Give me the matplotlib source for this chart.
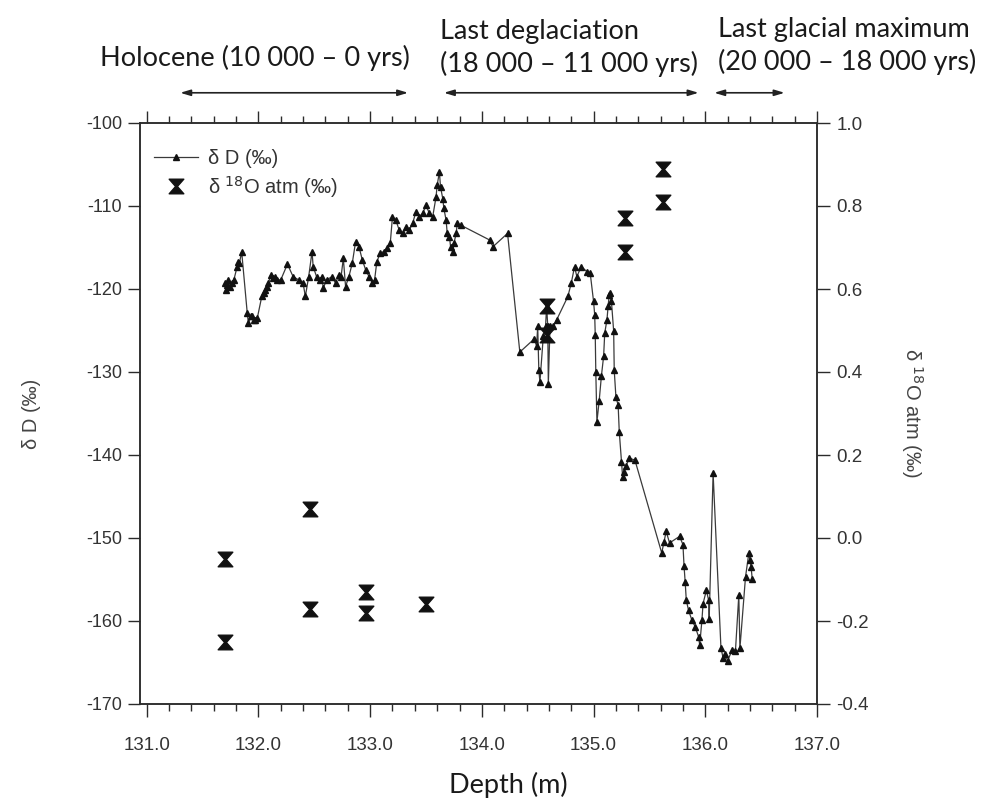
import matplotlib
matplotlib.use("Agg")
import matplotlib.pyplot as plt
from matplotlib.path import Path
from matplotlib.ticker import MultipleLocator, FormatStrFormatter
from matplotlib.transforms import blended_transform_factory

plt.rcParams["axes.unicode_minus"] = False

# Deuterium record along the core (depth in m, dD in permil)
depth_dD = [131.70, 131.71, 131.72, 131.73, 131.75, 131.76, 131.78, 131.81, 131.82, 131.83,
            131.85, 131.90, 131.91, 131.93, 131.94, 131.96, 131.97, 131.99, 132.03, 132.05,
            132.06, 132.08, 132.09, 132.11, 132.13, 132.15, 132.17, 132.20, 132.26, 132.31,
            132.36, 132.40, 132.42, 132.45, 132.48, 132.49, 132.52, 132.55, 132.57, 132.58,
            132.61, 132.66, 132.69, 132.72, 132.74, 132.76, 132.78, 132.81, 132.84, 132.87,
            132.90, 132.93, 132.96, 132.99, 133.02, 133.04, 133.06, 133.09, 133.12, 133.15,
            133.18, 133.20, 133.23, 133.26, 133.29, 133.32, 133.35, 133.38, 133.41, 133.44,
            133.47, 133.50, 133.53, 133.56, 133.59, 133.60, 133.62, 133.63, 133.65, 133.66,
            133.68, 133.69, 133.71, 133.72, 133.74, 133.75, 133.77, 133.78, 133.81, 134.07,
            134.10, 134.23, 134.34, 134.47, 134.49, 134.50, 134.51, 134.52, 134.55, 134.57,
            134.58, 134.59, 134.595, 134.61, 134.64, 134.67, 134.77, 134.80, 134.83, 134.85,
            134.89, 134.94, 134.97, 135.00, 135.01, 135.015, 135.02, 135.03, 135.05, 135.07,
            135.09, 135.10, 135.12, 135.13, 135.14, 135.15, 135.16, 135.18, 135.185, 135.20,
            135.22, 135.23, 135.25, 135.26, 135.27, 135.29, 135.32, 135.37, 135.61, 135.63,
            135.65, 135.68, 135.77, 135.80, 135.81, 135.82, 135.83, 135.85, 135.88, 135.91,
            135.94, 135.95, 135.97, 135.98, 136.01, 136.03, 136.035, 136.07, 136.14, 136.16,
            136.18, 136.20, 136.24, 136.27, 136.30, 136.31, 136.36, 136.39, 136.40, 136.41,
            136.42]
dD = [-119.3, -120.1, -119.5, -118.9, -119.8, -119.3, -118.9, -117.3, -116.7, -116.9,
      -115.5, -122.9, -124.1, -123.3, -123.3, -123.7, -123.7, -123.5, -120.9, -120.5,
      -120.1, -119.7, -119.3, -118.3, -118.7, -118.5, -118.9, -118.9, -117.0, -118.5,
      -118.9, -119.3, -120.9, -118.5, -115.5, -117.3, -118.5, -118.9, -118.5, -119.9,
      -118.9, -118.5, -119.3, -118.3, -118.5, -116.3, -119.7, -118.5, -116.9, -114.3,
      -114.9, -116.5, -117.7, -118.5, -119.3, -118.9, -116.7, -115.7, -115.5, -115.1,
      -114.5, -111.3, -111.7, -112.9, -113.3, -112.5, -112.9, -112.1, -110.7, -111.3,
      -110.9, -109.9, -110.9, -111.3, -108.9, -107.5, -105.9, -107.7, -109.1, -110.3,
      -111.7, -113.3, -113.7, -114.9, -115.6, -114.5, -113.3, -112.1, -112.3, -114.1,
      -114.9, -113.3, -127.6, -126.0, -126.9, -124.5, -129.8, -131.2, -125.7, -124.5,
      -122.1, -124.5, -131.5, -124.5, -124.5, -123.7, -120.9, -119.3, -117.3, -118.5,
      -117.3, -117.9, -118.1, -121.5, -123.1, -125.5, -130.0, -136.0, -133.5, -130.5,
      -128.1, -125.3, -123.7, -122.1, -120.7, -120.5, -121.5, -125.1, -129.8, -133.0,
      -134.0, -137.2, -140.8, -142.6, -142.0, -141.3, -140.4, -140.6, -151.8, -150.5,
      -149.2, -150.6, -149.8, -150.8, -153.4, -155.3, -157.5, -158.7, -159.9, -160.7,
      -161.9, -162.9, -159.9, -157.9, -156.3, -157.5, -159.7, -142.2, -163.2, -164.5,
      -164.0, -164.8, -163.5, -163.6, -156.9, -163.3, -154.7, -151.8, -152.6, -153.5,
      -154.9]

# Atmospheric d18O of trapped air (permil)
depth_d18O = [131.70, 131.70, 132.46, 132.46, 132.96, 132.96, 133.50,
              134.58, 134.58, 135.28, 135.28, 135.62, 135.62]
d18O = [-0.05, -0.25, 0.07, -0.17, -0.13, -0.18, -0.16,
        0.56, 0.49, 0.77, 0.69, 0.89, 0.81]

# Climate periods: label and depth span of the arrow
period_labels = ["Holocene (10 000 – 0 yrs)",
                 "Last deglaciation\n(18 000 – 11 000 yrs)",
                 "Last glacial maximum\n(20 000 – 18 000 yrs)"]
period_spans = [(131.30, 133.34), (133.66, 135.94), (136.08, 136.71)]

W, H = 989, 807
fig = plt.figure(figsize=(W / 100, H / 100), dpi=100)
ax = fig.add_axes([140 / W, 1 - 704 / H, 677 / W, 581 / H])

ink = "#2b2b2b"
tick_font = "Liberation Sans"
title_font = "Lato"

# hourglass marker
hourglass = Path([(-1, 1), (1, 1), (0.12, 0), (1, -1), (-1, -1), (-0.12, 0), (-1, 1)],
                 [Path.MOVETO, Path.LINETO, Path.LINETO, Path.LINETO, Path.LINETO,
                  Path.LINETO, Path.CLOSEPOLY])

ln1, = ax.plot(depth_dD, dD, color="#3a3a3a", lw=0.9, marker="^", ms=5,
               mfc="#111111", mec="#111111", label="δ D (‰)")
ax.set_xlim(130.94, 137.0)
ax.set_ylim(-170, -100)

ax2 = ax.twinx()
ln2, = ax2.plot(depth_d18O, d18O, ls="none", marker=hourglass, ms=10.5,
                mfc="#111111", mec="#111111", label=r"δ $^{18}$O atm (‰)")
ax2.set_ylim(-0.4, 1.0)

for a in (ax, ax2):
    for s in a.spines.values():
        s.set_color(ink)
        s.set_linewidth(1.1)

ax.xaxis.set_major_locator(MultipleLocator(1.0))
ax.xaxis.set_minor_locator(MultipleLocator(0.2))
ax.xaxis.set_major_formatter(FormatStrFormatter("%.1f"))
ax.yaxis.set_major_locator(MultipleLocator(10))
ax2.yaxis.set_major_locator(MultipleLocator(0.2))
ax2.yaxis.set_major_formatter(FormatStrFormatter("%.1f"))

ax.tick_params(axis="x", which="major", direction="out", length=9, width=1.0,
               color=ink, top=True, labelsize=13.5, labelcolor="#333333", pad=15)
ax.tick_params(axis="x", which="minor", direction="out", length=5, width=1.0,
               color=ink, top=True)
ax.tick_params(axis="y", which="major", direction="out", length=9, width=1.0,
               color=ink, labelsize=13, labelcolor="#333333", pad=4)
ax2.tick_params(axis="y", which="major", direction="out", length=9, width=1.0,
                color=ink, labelsize=13.5, labelcolor="#333333", pad=5)
for lab in ax.get_xticklabels() + ax.get_yticklabels() + ax2.get_yticklabels():
    lab.set_fontfamily(tick_font)

ax.set_ylabel("δ D (‰)", fontsize=14.5, color="#444444", family=tick_font, labelpad=32)
ax2.set_ylabel(r"δ $^{18}$O atm (‰)", fontsize=14.5, color="#444444", family=tick_font,
               rotation=270, labelpad=40)
fig.text(508 / W, 1 - 785 / H, "Depth (m)", ha="center", va="center", fontsize=19.5,
         family=title_font, color="#1a1a1a")

leg = ax.legend([ln1, ln2], [ln1.get_label(), ln2.get_label()], loc="upper left",
                bbox_to_anchor=(0.0, 0.98), frameon=False, handlelength=2.2,
                handletextpad=0.5, borderaxespad=0.3, labelspacing=0.3,
                prop={"family": tick_font, "size": 14.5})
for t in leg.get_texts():
    t.set_color("#333333")

# period arrows and labels above the plot
trans = blended_transform_factory(ax.transData, ax.transAxes)
for (x0, x1) in period_spans:
    ax.annotate("", xy=(x0, 1.052), xytext=(x1, 1.052), xycoords=trans, textcoords=trans,
                arrowprops=dict(arrowstyle="<|-|>,head_length=0.6,head_width=0.18",
                                color="#222222", lw=1.2, shrinkA=0, shrinkB=0),
                annotation_clip=False)

label_pos = [(100, 58), (440, 48), (718, 46)]
for text, (px, py) in zip(period_labels, label_pos):
    fig.text(px / W, 1 - py / H, text, ha="left", va="center", multialignment="left",
             fontsize=19.5, family=title_font, color="#1a1a1a", linespacing=1.3)

fig.savefig("out.png", dpi=100)
